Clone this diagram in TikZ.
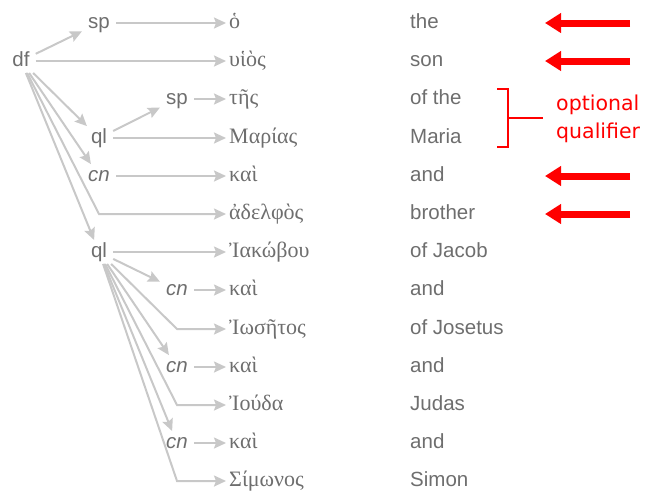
\documentclass[tikz,border=0pt]{standalone}
\usepackage{fontspec}
\setmainfont{Liberation Sans}
\newfontfamily\greekfont{Liberation Serif}
\newfontfamily\notefont{DejaVu Sans}
\usetikzlibrary{arrows.meta}
\definecolor{linkgray}{RGB}{200,200,200}
\definecolor{wordgray}{RGB}{110,110,110}
\tikzset{
  tag/.style={font=\fontsize{20.5}{20.5}\selectfont, text=wordgray, text height=11.5pt, text depth=0pt, inner xsep=6pt, inner ysep=6pt},
  greek/.style={anchor=west, font=\greekfont\fontsize{22}{22}\selectfont, text=wordgray, text height=10.5pt, text depth=0pt, inner sep=3pt},
  gloss/.style={anchor=west, font=\fontsize{20.5}{20.5}\selectfont, text=wordgray, text height=11.5pt, text depth=0pt, inner sep=0pt},
  note/.style={anchor=base west, text=red, inner sep=0pt, font=\notefont\fontsize{20.5}{20.5}\selectfont},
  link/.style={draw=linkgray, line width=2pt, -{Stealth[length=12pt,width=11pt,inset=2pt]}},
  pointer/.style={draw=red, line width=7pt, -{Triangle[length=16pt,width=19pt]}}
}

\begin{document}
\begin{tikzpicture}[x=1pt,y=-1pt]
\useasboundingbox (0,0) rectangle (648,491);

% tree labels
\node[tag] (df) at (21,61) {df};
\node[tag] (sp1) at (99,23) {sp};
\node[tag] (ql1) at (99,138) {ql};
\node[tag] (sp2) at (177,99) {sp};
\node[tag] (cn1) at (99,176) {\itshape cn};
\node[tag] (ql2) at (99,252) {ql};
\node[tag] (cn2) at (177,290) {\itshape cn};
\node[tag] (cn3) at (177,367) {\itshape cn};
\node[tag] (cn4) at (177,443) {\itshape cn};

% greek words
\node[greek] (g1) at (226,23) {ὁ};
\node[greek] (g2) at (226,61) {υἱὸς};
\node[greek] (g3) at (226,99) {τῆς};
\node[greek] (g4) at (226,138) {Μαρίας};
\node[greek] (g5) at (226,176) {καὶ};
\node[greek] (g6) at (226,214) {ἀδελφὸς};
\node[greek] (g7) at (226,252) {Ἰακώβου};
\node[greek] (g8) at (226,290) {καὶ};
\node[greek] (g9) at (226,329) {Ἰωσῆτος};
\node[greek] (g10) at (226,367) {καὶ};
\node[greek] (g11) at (226,405) {Ἰούδα};
\node[greek] (g12) at (226,443) {καὶ};
\node[greek] (g13) at (226,481) {Σίμωνος};

% english glosses
\node[gloss] (e1) at (410,23) {the};
\node[gloss] (e2) at (410,61) {son};
\node[gloss] (e3) at (410,99) {of the};
\node[gloss] (e4) at (410,138) {Maria};
\node[gloss] (e5) at (410,176) {and};
\node[gloss] (e6) at (410,214) {brother};
\node[gloss] (e7) at (410,252) {of Jacob};
\node[gloss] (e8) at (410,290) {and};
\node[gloss] (e9) at (410,329) {of Josetus};
\node[gloss] (e10) at (410,367) {and};
\node[gloss] (e11) at (410,405) {Judas};
\node[gloss] (e12) at (410,443) {and};
\node[gloss] (e13) at (410,481) {Simon};

% upper part
\draw[link] (df) -- (sp1);
\draw[link] (sp1) -- (g1.west);
\draw[link] (df) -- (g2.west);
\draw[link] (df) -- (ql1);
\draw[link] (ql1) -- (sp2);
\draw[link] (sp2) -- (g3.west);
\draw[link] (ql1) -- (g4.west);
\draw[link] (df) -- (cn1);
\draw[link] (cn1) -- (g5.west);
\draw[link] (df) -- (ql1 |- g6) -- (g6.west);
\draw[link] (df) -- (ql2);

% lower part
\draw[link] (ql2) -- (g7.west);
\draw[link] (ql2) -- (cn2);
\draw[link] (cn2) -- (g8.west);
\draw[link] (ql2) -- (cn2 |- g9) -- (g9.west);
\draw[link] (ql2) -- (cn3);
\draw[link] (cn3) -- (g10.west);
\draw[link] (ql2) -- (cn3 |- g11) -- (g11.west);
\draw[link] (ql2) -- (cn4);
\draw[link] (cn4) -- (g12.west);
\draw[link] (ql2) -- (cn4 |- g13) -- (g13.west);

% red markers
\coordinate (tipx) at (545,0);
\coordinate (tailx) at (630,0);
\foreach \r in {1,2,5,6}
  \draw[pointer] (e\r -| tailx) -- (e\r -| tipx);

\draw[red, line width=1.5pt] (497,89) -| (508,147) -- (497,147);
\draw[red, line width=1.5pt] (508,118) -- (543,118);
\node[note] (note1) at (556,110) {optional};
\node[note] (note2) at (556,138) {qualifier};

\end{tikzpicture}
\end{document}
